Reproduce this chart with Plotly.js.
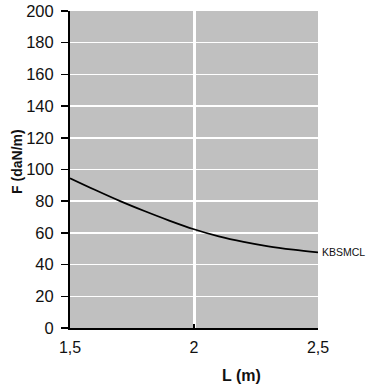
<!DOCTYPE html>
<html>
<head>
<meta charset="utf-8">
<script src="https://cdn.plot.ly/plotly-3.0.1.min.js"></script>
<style>html,body{margin:0;padding:0;background:#fff;}#chart{width:366px;height:387px;}</style>
</head>
<body>
<div id="chart"></div>
<script>
var L = [1.5, 1.6, 1.7, 1.8, 1.9, 2.0, 2.1, 2.2, 2.3, 2.4, 2.5];
var F = [94.5, 87.2, 80.2, 73.8, 67.8, 62.3, 57.8, 54.3, 51.5, 49.4, 47.7];
var seriesName = "KBSMCL";
var xTickVals = [1.5, 2, 2.5];
var xTickText = ["1,5", "2", "2,5"];
var yTickVals = [0, 20, 40, 60, 80, 100, 120, 140, 160, 180, 200];
var xTitle = "L (m)";
var yTitle = "F (daN/m)";

var font = "Liberation Sans, Arial, sans-serif";
var trace = {
  x: L, y: F, type: "scatter", mode: "lines", line: {color: "#000", width: 1.8, shape: "spline", smoothing: 1},
  hoverinfo: "none", showlegend: false
};
var layout = {
  width: 366, height: 387,
  margin: {l: 70, r: 48, t: 11, b: 59},
  paper_bgcolor: "#fff", plot_bgcolor: "#c0c0c0",
  xaxis: {
    range: [1.5, 2.5], tickvals: xTickVals, ticktext: xTickText,
    showgrid: true, gridcolor: "#fff", gridwidth: 3,
    zeroline: false, showline: true, linecolor: "#000", linewidth: 2,
    ticks: "inside", ticklen: 4, tickwidth: 2, tickcolor: "#000",
    tickfont: {family: font, size: 16, color: "#111"}, ticklabelstandoff: 4,
    fixedrange: true
  },
  yaxis: {
    range: [0, 200], tickvals: yTickVals,
    showgrid: true, gridcolor: "#fff", gridwidth: 1.5,
    zeroline: false, showline: true, linecolor: "#000", linewidth: 2,
    ticks: "outside", ticklen: 7, tickwidth: 1.5, tickcolor: "#000",
    tickfont: {family: font, size: 16.5, color: "#111"}, ticklabelstandoff: 4,
    fixedrange: true
  },
  annotations: [
    {x: L[L.length - 1], y: F[F.length - 1], xref: "x", yref: "y", text: seriesName,
     showarrow: false, xanchor: "left", yanchor: "middle", xshift: 2,
     font: {family: font, size: 10.5, color: "#111"}},
    {x: 0.69, y: 0, xref: "paper", yref: "paper", text: "<b>" + xTitle + "</b>",
     showarrow: false, xanchor: "center", yanchor: "middle", yshift: -47,
     font: {family: font, size: 16, color: "#111"}},
    {x: 0, y: 0.524, xref: "paper", yref: "paper", text: "<b>" + yTitle + "</b>",
     showarrow: false, xanchor: "center", yanchor: "middle", xshift: -53, textangle: -90,
     font: {family: font, size: 14, color: "#111"}}
  ]
};
Plotly.newPlot("chart", [trace], layout, {displayModeBar: false, staticPlot: true});
</script>
</body>
</html>
